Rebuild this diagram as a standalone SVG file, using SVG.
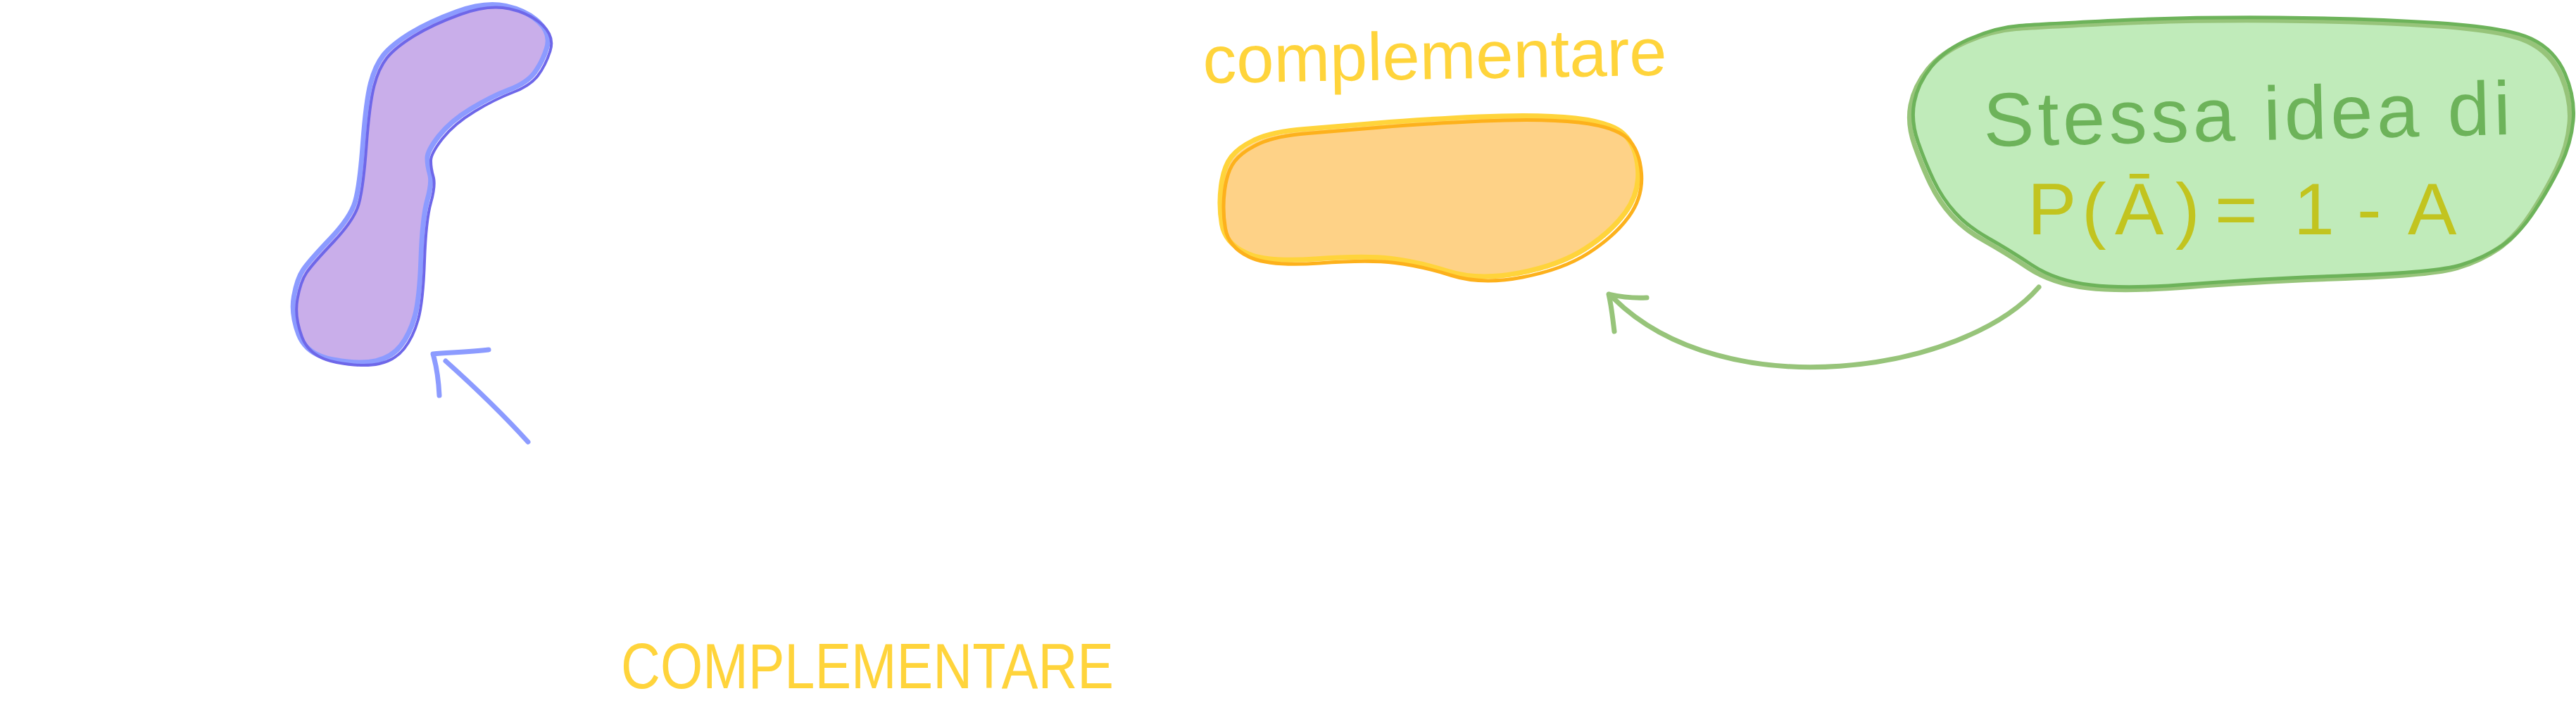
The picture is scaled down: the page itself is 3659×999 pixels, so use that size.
<svg xmlns="http://www.w3.org/2000/svg" xmlns:xlink="http://www.w3.org/1999/xlink" width="3659" height="999" viewBox="0 0 3659 999">
<style>
.line{fill:none;stroke-linecap:round;stroke-linejoin:round}
.pf{fill:#c9aeea}
.ps1{stroke:#8c9bff;stroke-width:7}
.ps2{stroke:#6e67e9;stroke-width:4}
.of{fill:#fed287}
.os1{stroke:#ffd43b;stroke-width:7}
.os2{stroke:#fdb11c;stroke-width:5}
.gf{fill:#c0ebba}
.gs1{stroke:#97c47a;stroke-width:7}
.gs2{stroke:#6db35a;stroke-width:5}
.t{font-family:"Liberation Sans",Arial,sans-serif}
.yel{fill:#ffd43b}
.grn{fill:#6db35a}
.olive{fill:#c2c41f}
.ab{stroke:#8c9bff;stroke-width:7}
.ag{stroke:#97c47a;stroke-width:7}
</style>
<defs>
<path id="purple" d="M585.5,49.5 Q612,33 652,18.5 Q692,4 721.5,10.5 Q751,17 768.5,33.5 Q786,50 779.5,70.5 Q773,91 762,105.5 Q751,120 726,129.5 Q701,139 672,156.5 Q643,174 626.5,195 Q610,216 610,226.5 Q610,237 613.5,249 Q617,261 610,286 Q603,311 601,369 Q599,427 592,452 Q585,477 572,493.5 Q559,510 536.5,515 Q514,520 476,513 Q438,506 427,477 Q416,448 420.5,423 Q425,398 433.5,385.5 Q442,373 471.5,342 Q501,311 507.5,288.5 Q514,266 518.5,205.5 Q523,145 529.5,120 Q536,95 547.5,80.5 Q559,66 585.5,49.5 Z"/>
<path id="orange" d="M1786,201 Q1810,190 1855,186.5 Q1900,183 1958,178 Q2016,173 2102,169 Q2188,165 2239.5,171 Q2291,177 2308.5,193.5 Q2326,210 2328.5,243.5 Q2331,277 2310.5,305 Q2290,333 2253.5,356.5 Q2217,380 2159.5,391 Q2102,402 2059,388.5 Q2016,375 1978.5,370.5 Q1941,366 1870.5,371 Q1800,376 1771,362 Q1742,348 1737.5,321.5 Q1733,295 1736.5,267.5 Q1740,240 1751,226 Q1762,212 1786,201 Z"/>
<path id="green" d="M2866.5,37.5 Q2900,35 3005,30 Q3110,25 3235,26 Q3360,27 3460,33.5 Q3560,40 3593.5,56 Q3627,72 3641.5,106 Q3656,140 3653,172.5 Q3650,205 3635,236 Q3620,267 3598.5,300 Q3577,333 3552,350 Q3527,367 3493.5,377.5 Q3460,388 3334,392.5 Q3208,397 3113.5,404.5 Q3019,412 2968.5,406 Q2918,400 2884,377.5 Q2850,355 2821.5,339 Q2793,323 2775,303 Q2757,283 2745,258 Q2733,233 2722.5,203 Q2712,173 2717,146.5 Q2722,120 2741,96 Q2760,72 2796.5,56 Q2833,40 2866.5,37.5 Z"/>
</defs>
<rect width="3659" height="999" fill="#ffffff"/>

<g id="node-purple-blob">
<use xlink:href="#purple" class="pf"/>
<use xlink:href="#purple" class="line ps1" transform="translate(-3,-2)"/>
<use xlink:href="#purple" class="line ps2" transform="translate(2,2)"/>
</g>

<g id="node-orange-blob">
<use xlink:href="#orange" class="of"/>
<use xlink:href="#orange" class="line os1" transform="translate(-2,-3)"/>
<use xlink:href="#orange" class="line os2" transform="translate(3,3)"/>
</g>

<g id="label-complementare-top">
<text class="t yel" x="1709" y="118" font-size="96" textLength="659" lengthAdjust="spacingAndGlyphs" transform="rotate(-1 1709 118)">complementare</text>
</g>

<g id="node-green-bubble">
<use xlink:href="#green" class="gf"/>
<use xlink:href="#green" class="line gs1" transform="translate(-3,3)"/>
<use xlink:href="#green" class="line gs2" transform="translate(2,-1)"/>
<text class="t grn" x="2818" y="208" font-size="108" textLength="749" lengthAdjust="spacing" transform="rotate(-1.3 2818 208)">Stessa idea di</text>
<text class="t olive" font-size="104" y="333" x="2880 2957 3004 3090 3125 3146 3210 3258 3313 3348 3390 3420">P(Ā) = 1 - A</text>
</g>

<g id="label-complementare-bottom">
<text class="t yel" x="882" y="978" font-size="90" textLength="700" lengthAdjust="spacingAndGlyphs">COMPLEMENTARE</text>
</g>

<g id="connectors">
<path class="line ab" d="M633,513 C672,548 712,586 750,628"/>
<path class="line ab" d="M694,497 C668,500 640,501 615,503 C620,520 623,541 624,562"/>
<path class="line ag" d="M2896,408 C2790,530 2450,580 2292,424"/>
<path class="line ag" d="M2339,423 C2320,424 2302,422 2285,418 C2289,435 2291,455 2293,471"/>
</g>
</svg>
